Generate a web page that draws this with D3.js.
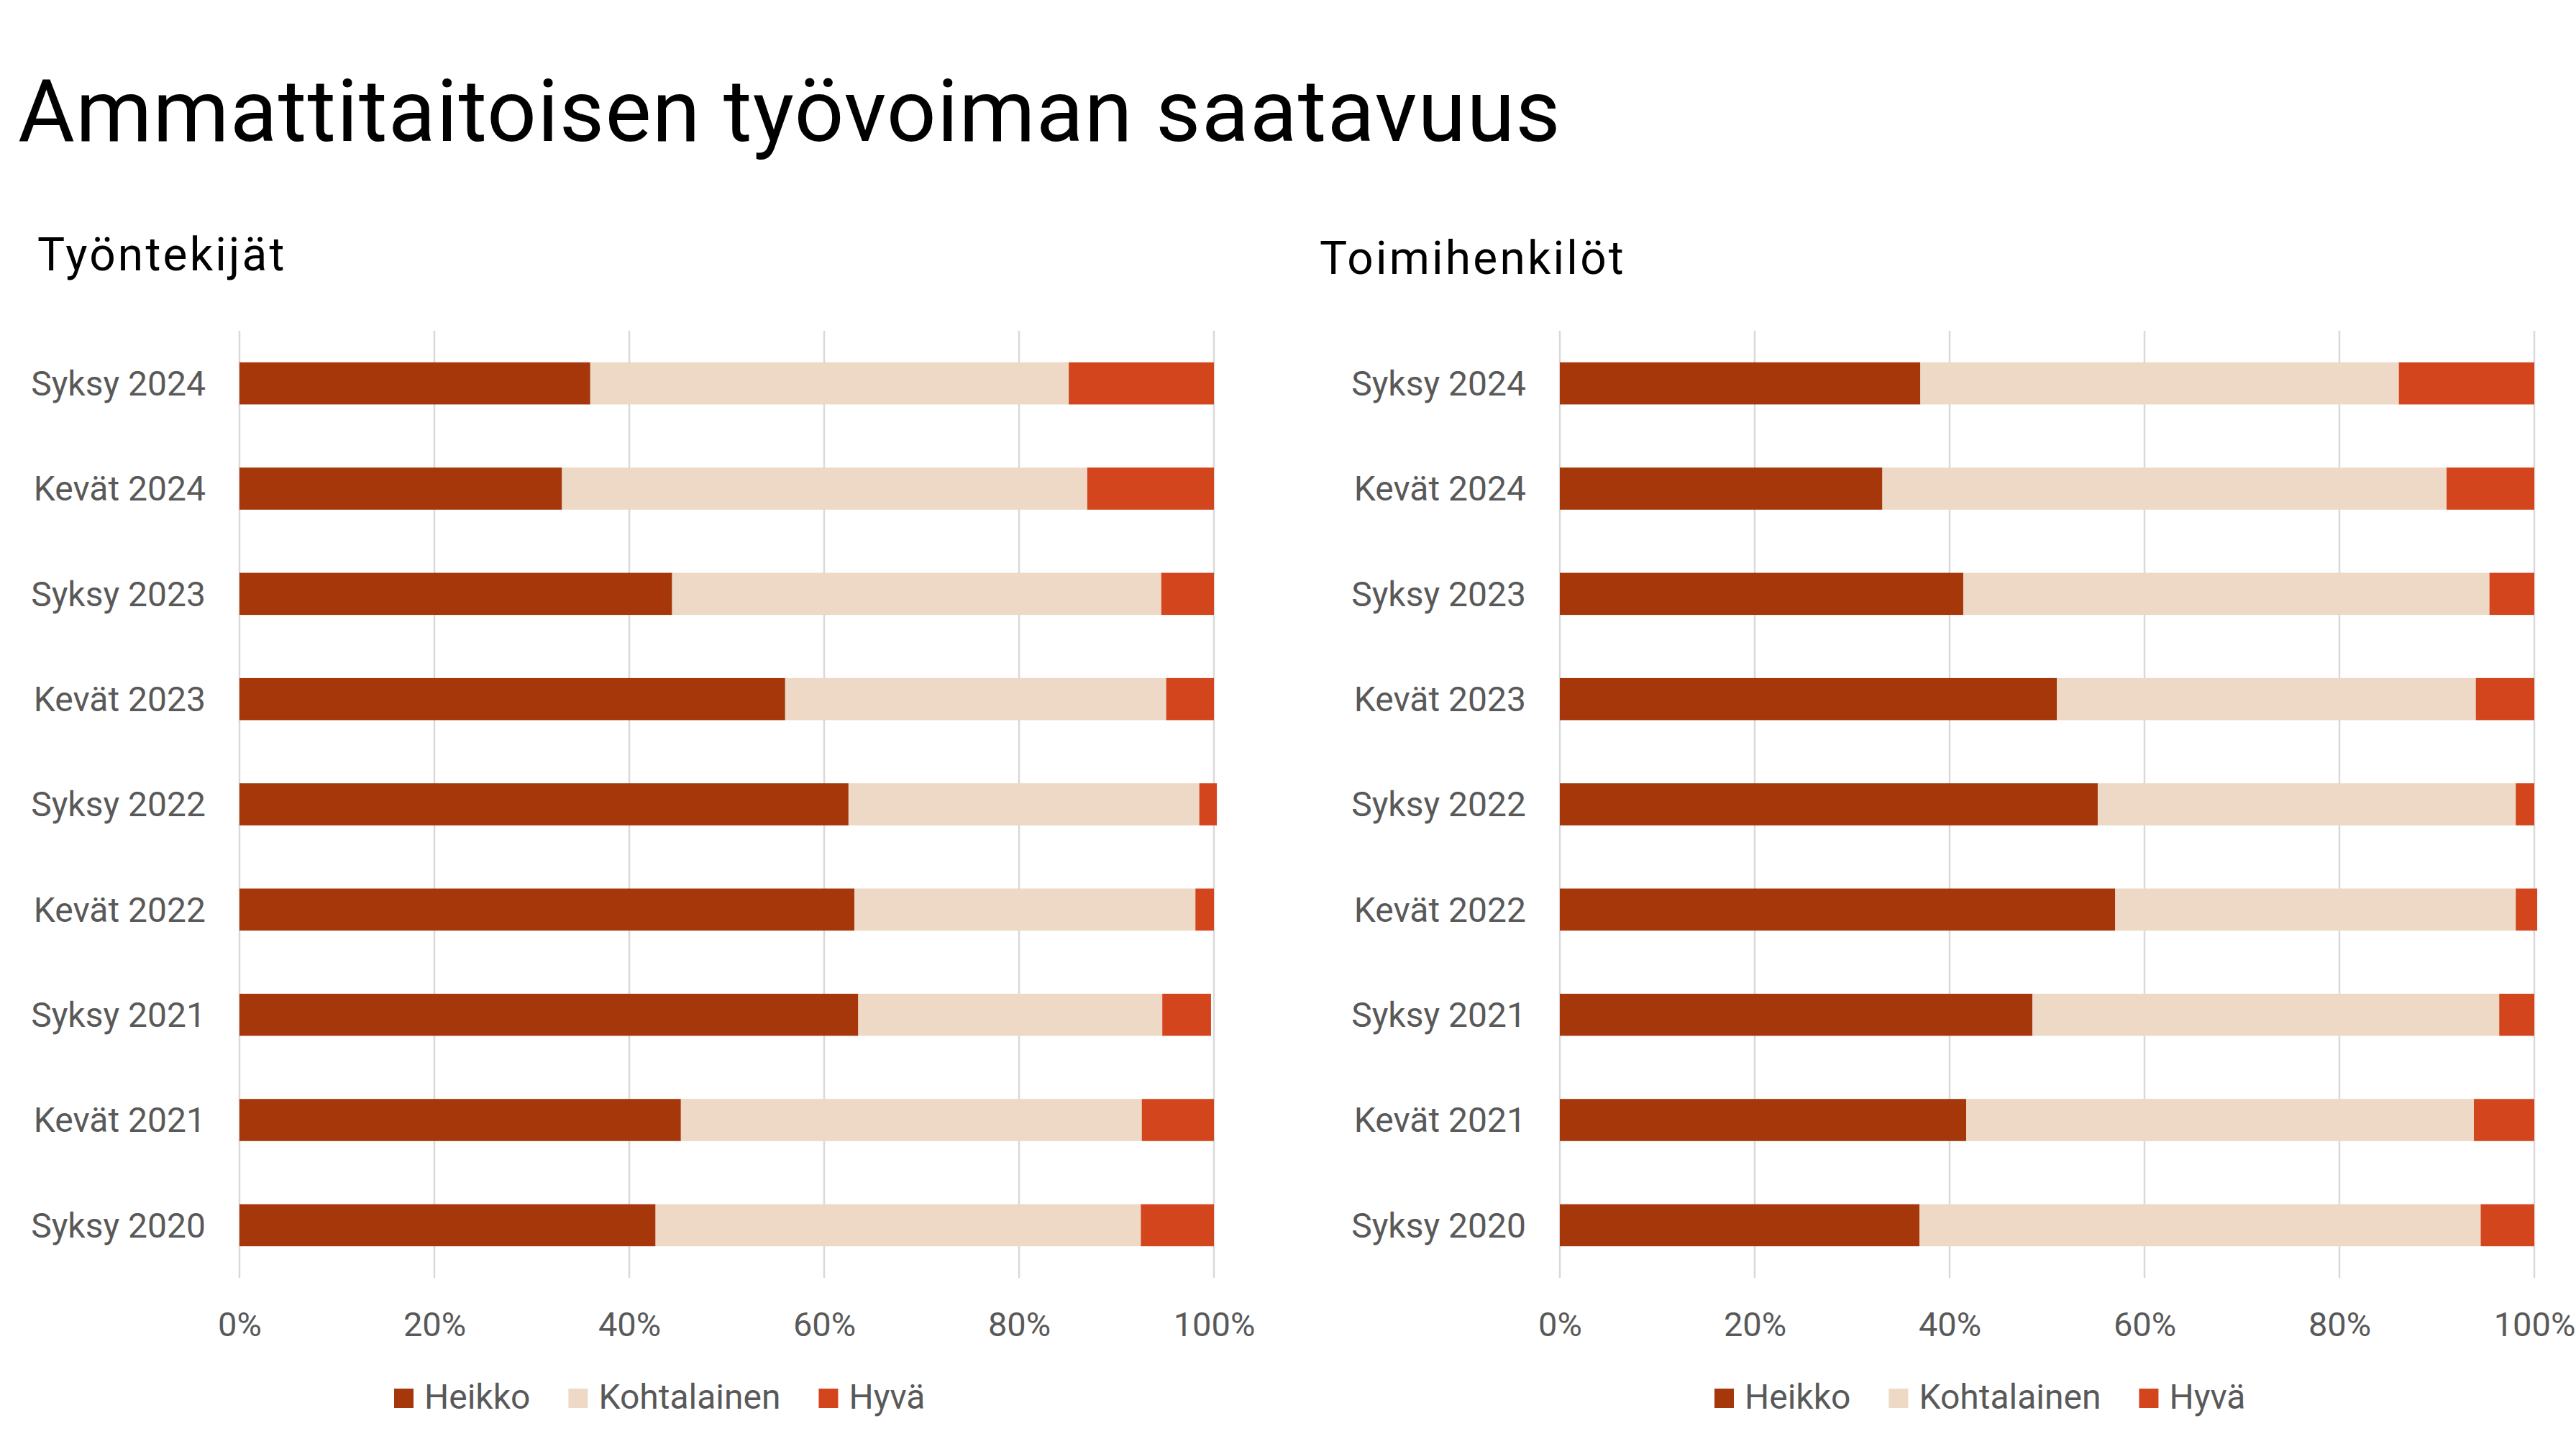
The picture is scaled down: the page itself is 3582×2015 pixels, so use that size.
<!DOCTYPE html>
<html>
<head>
<meta charset="utf-8">
<script src="https://cdn.jsdelivr.net/npm/d3@7"></script>
<style>
  body { margin: 0; background: #fff; }
  text { font-family: Roboto, "Noto Sans", sans-serif; }
</style>
</head>
<body>
<svg id="chart" width="3582" height="2015"></svg>
<script>
// categories, top to bottom
var categories = ["Syksy 2024", "Kevät 2024", "Syksy 2023", "Kevät 2023", "Syksy 2022",
                  "Kevät 2022", "Syksy 2021", "Kevät 2021", "Syksy 2020"];

var seriesNames = ["Heikko", "Kohtalainen", "Hyvä"];
var seriesColors = ["#A5370A", "#EDD9C5", "#D3461D"];

// Työntekijät (%)
var tyoHeikko      = [36.0, 33.1, 44.4, 56.0, 62.5, 63.1, 63.5, 45.3, 42.7];
var tyoKohtalainen = [49.1, 53.9, 50.2, 39.1, 36.0, 35.0, 31.2, 47.3, 49.8];
var tyoHyva        = [14.9, 13.0,  5.4,  4.9,  1.8,  1.9,  5.0,  7.4,  7.5];

// Toimihenkilöt (%)
var toiHeikko      = [37.0, 33.1, 41.4, 51.0, 55.2, 57.0, 48.5, 41.7, 36.9];
var toiKohtalainen = [49.1, 57.9, 54.0, 43.0, 42.9, 41.1, 47.9, 52.1, 57.6];
var toiHyva        = [13.9,  9.0,  4.6,  6.0,  1.9,  2.2,  3.6,  6.2,  5.5];

var xTicks = [0, 20, 40, 60, 80, 100];

var svg = d3.select("#chart");

// main title
svg.append("text")
  .attr("x", 25)
  .attr("y", 196)
  .attr("font-size", 121)
  .attr("letter-spacing", 1.2)
  .attr("fill", "#000")
  .text("Ammattitaitoisen työvoiman saatavuus");

// draws one panel
function drawPanel(ox, title, titleX, titleY, heikko, kohtalainen, hyva) {
	var g = svg.append("g").attr("transform", "translate(" + ox + ",0)");

	g.append("text")
	  .attr("x", titleX - ox)
	  .attr("y", titleY)
	  .attr("font-size", 64)
	  .attr("letter-spacing", 3.2)
	  .attr("font-family", "'Noto Sans', sans-serif")
	  .attr("fill", "#000")
	  .text(title);

	var rows = categories.map(function(c, i) {
		return { cat: c, "Heikko": heikko[i], "Kohtalainen": kohtalainen[i], "Hyvä": hyva[i] };
	});
	var stacked = d3.stack().keys(seriesNames)(rows);

	var x = d3.scaleLinear().domain([0, 100]).range([333, 1688]);
	var y = d3.scaleBand().domain(categories).range([460, 1777])
	          .paddingInner(0.6).paddingOuter(0.3);

	// gridlines
	g.append("g").selectAll("line")
	  .data(xTicks).enter().append("line")
	  .attr("x1", function(d) { return x(d); })
	  .attr("x2", function(d) { return x(d); })
	  .attr("y1", 460)
	  .attr("y2", 1777)
	  .attr("stroke", "#D9D9D9")
	  .attr("stroke-width", 2.5);

	// bars
	g.append("g").selectAll("g")
	  .data(stacked).enter().append("g")
	  .attr("fill", function(d, i) { return seriesColors[i]; })
	  .selectAll("rect")
	  .data(function(d) { return d; }).enter().append("rect")
	  .attr("x", function(d) { return x(d[0]); })
	  .attr("width", function(d) { return x(d[1]) - x(d[0]); })
	  .attr("y", function(d) { return y(d.data.cat); })
	  .attr("height", y.bandwidth());

	// x axis labels
	var xAxis = d3.axisBottom(x).tickValues(xTicks)
	  .tickFormat(function(d) { return d + "%"; })
	  .tickSize(0).tickPadding(0);
	var ax = g.append("g").attr("transform", "translate(0,1858)").call(xAxis);
	ax.select(".domain").remove();
	ax.selectAll("text")
	  .attr("y", 0).attr("dy", 0)
	  .attr("font-size", 47)
	  .attr("font-family", "Roboto, sans-serif")
	  .attr("fill", "#595959");

	// y axis labels
	var yAxis = d3.axisLeft(y).tickSize(0).tickPadding(0);
	var ay = g.append("g").attr("transform", "translate(286,0)").call(yAxis);
	ay.select(".domain").remove();
	ay.selectAll("text")
	  .attr("x", 0).attr("dy", "0.35em")
	  .attr("font-size", 48)
	  .attr("font-family", "Roboto, sans-serif")
	  .attr("fill", "#595959");

	// legend
	var lg = g.append("g");
	var lx = 548;
	seriesNames.forEach(function(name, i) {
		lg.append("rect")
		  .attr("x", lx).attr("y", 1931)
		  .attr("width", 27).attr("height", 27)
		  .attr("fill", seriesColors[i]);
		var t = lg.append("text")
		  .attr("x", lx + 42).attr("y", 1959)
		  .attr("font-size", 48)
		  .attr("fill", "#595959")
		  .text(name);
		lx = lx + 42 + t.node().getComputedTextLength() + 53;
	});
}

drawPanel(0, "Työntekijät", 52, 376, tyoHeikko, tyoKohtalainen, tyoHyva);
drawPanel(1836, "Toimihenkilöt", 1835, 381, toiHeikko, toiKohtalainen, toiHyva);
</script>
</body>
</html>
